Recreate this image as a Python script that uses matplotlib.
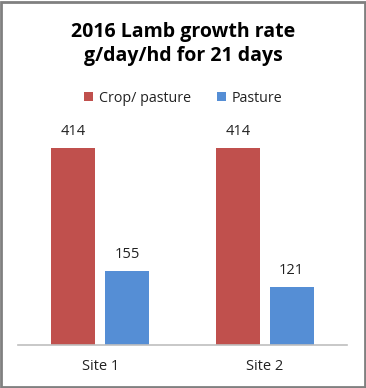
import matplotlib
matplotlib.use("Agg")
import matplotlib.pyplot as plt
from matplotlib.patches import Rectangle
import numpy as np

categories = ["Site 1", "Site 2"]
series_names = ["Crop/ pasture", "Pasture"]
crop_pasture = [414, 414]
pasture = [155, 121]
colors = ["#C0504D", "#558ED5"]
title = "2016 Lamb growth rate\ng/day/hd for 21 days"

plt.rcParams['font.family'] = ['Open Sans', 'DejaVu Sans']

W, H = 366, 388
fig = plt.figure(figsize=(W/100, H/100), dpi=100)

# axes: x 18..347 px, baseline at 345 px, top at 107 px
ax = fig.add_axes([18/W, 1-345/H, (347-18)/W, (345-107)/H])
x = np.arange(len(categories))
bw = 0.267
off = 0.164
b1 = ax.bar(x - off, crop_pasture, bw, color=colors[0], label=series_names[0])
b2 = ax.bar(x + off, pasture, bw, color=colors[1], label=series_names[1])
ax.set_xlim(-0.5, 1.5)
ax.set_ylim(0, 500)
for bars, vals in ((b1, crop_pasture), (b2, pasture)):
    for r, v in zip(bars, vals):
        ax.annotate(str(v), (r.get_x() + r.get_width()/2, v), xytext=(0, 6.5),
                    textcoords="offset points", ha="center", va="bottom",
                    fontsize=10.5, color="#222222")
for s in ["top", "right", "left"]:
    ax.spines[s].set_visible(False)
ax.spines["bottom"].set_color("#BFBFBF")
ax.spines["bottom"].set_linewidth(1.2)
ax.set_yticks([])
ax.set_xticks(x)
ax.set_xticklabels(categories, fontsize=10.5, color="#222222")
ax.tick_params(axis="x", length=0, pad=10)

fig.text(0.5, 1-44/H, title, ha="center", va="center", fontsize=14,
         fontweight="bold", linespacing=1.3)

leg = fig.legend(handles=[b1, b2], loc="center", bbox_to_anchor=(0.5, 1-98/H),
                 ncol=2, frameon=False, fontsize=10.3, handlelength=0.65,
                 handleheight=0.65, handletextpad=0.4, columnspacing=1.8)
for t in leg.get_texts():
    t.set_color("#222222")

fig.patches.append(Rectangle((1/W, 1/H), 1-2.5/W, 1-2.5/H, transform=fig.transFigure,
                             fill=False, edgecolor="#808080", linewidth=2))

fig.savefig("out.png", dpi=100)
